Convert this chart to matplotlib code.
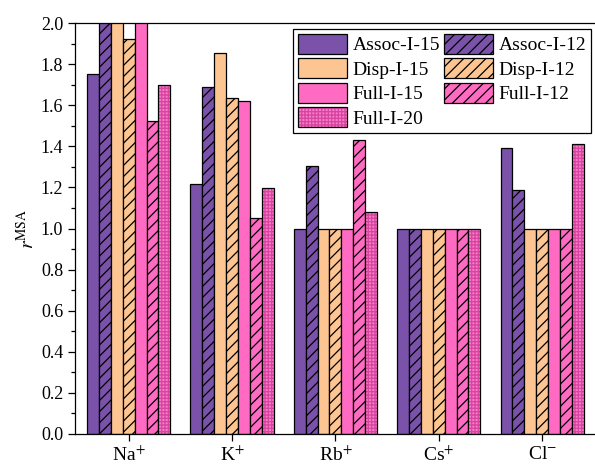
import numpy as np
import matplotlib.pyplot as plt
from matplotlib.legend_handler import HandlerTuple

plt.rcParams['font.family'] = 'Liberation Serif'
plt.rcParams['mathtext.fontset'] = 'stix'
plt.rcParams['hatch.linewidth'] = 0.9

ions = ['Na$^{+}$', 'K$^{+}$', 'Rb$^{+}$', 'Cs$^{+}$', 'Cl$^{-}$']

# r^MSA values per parameter set (bars above 2.0 are clipped in the figure)
assoc_15 = [1.75, 1.217, 1.0, 1.0, 1.39]
assoc_12 = [2.05, 1.689, 1.305, 1.0, 1.185]
disp_15 = [2.05, 1.854, 1.0, 1.0, 1.0]
disp_12 = [1.92, 1.635, 1.0, 1.0, 1.0]
full_15 = [2.05, 1.62, 1.0, 1.0, 1.0]
full_12 = [1.525, 1.05, 1.43, 1.0, 1.0]
full_20 = [1.70, 1.197, 1.08, 1.0, 1.41]

purple = '#7A52AA'
peach = '#FDC591'
pink = '#FF6BC2'

fig = plt.figure(figsize=(5.95, 4.66), dpi=100)
ax = fig.add_axes([75/595, 1 - 434/466, 525/595, 411/466])

x = np.arange(len(ions))
w = 0.115

series = [
    (assoc_15, 'Assoc-I-15', purple, ''),
    (assoc_12, 'Assoc-I-12', purple, '///'),
    (disp_15, 'Disp-I-15', peach, ''),
    (disp_12, 'Disp-I-12', peach, '///'),
    (full_15, 'Full-I-15', pink, ''),
    (full_12, 'Full-I-12', pink, '///'),
]

handles = {}
for i, (vals, lab, col, hat) in enumerate(series):
    b = ax.bar(x + (i - 3) * w, vals, w, color=col, edgecolor='black',
               linewidth=0.9, hatch=hat, label=lab)
    handles[lab] = b

# Full-I-20: pink with a fine pink grid, black outline on top
b1 = ax.bar(x + 3 * w, full_20, w, color='#F77DC9', edgecolor='#D8439F',
            linewidth=0, hatch='+++++')
b2 = ax.bar(x + 3 * w, full_20, w, fill=False, edgecolor='black', linewidth=0.9)
handles['Full-I-20'] = (b1, b2)

ax.set_xlim(-0.52, 4.56)
ax.set_ylim(0, 2.0)
ax.set_yticks(np.arange(0, 2.01, 0.2))
ax.set_yticks(np.arange(0.1, 2.0, 0.2), minor=True)
ax.set_xticks(x)
ax.set_xticklabels(ions, fontsize=14)
ax.tick_params(axis='y', labelsize=13, direction='out', length=5, width=0.9)
ax.tick_params(axis='y', which='minor', direction='out', length=3, width=0.9)
ax.tick_params(axis='x', direction='out', length=5, width=0.9)
ax.set_ylabel(r'$r^{\mathrm{MSA}}$', fontsize=14, labelpad=2)
for s in ax.spines.values():
    s.set_linewidth(0.9)
ax.spines['right'].set_visible(False)

order = ['Assoc-I-15', 'Disp-I-15', 'Full-I-15', 'Full-I-20',
         'Assoc-I-12', 'Disp-I-12', 'Full-I-12']
leg = ax.legend([handles[k] for k in order], order, ncol=2,
                loc='upper right', bbox_to_anchor=(591/595, 1 - 29/466),
                bbox_transform=fig.transFigure, borderaxespad=0,
                fontsize=14, frameon=True, fancybox=False, edgecolor='black',
                framealpha=1, handlelength=2.5, handleheight=1.2,
                handletextpad=0.3, labelspacing=0.2, columnspacing=0.2,
                borderpad=0.25, handler_map={tuple: HandlerTuple(ndivide=1, pad=0)})
leg.get_frame().set_linewidth(0.9)

fig.savefig('out.png', dpi=100)
